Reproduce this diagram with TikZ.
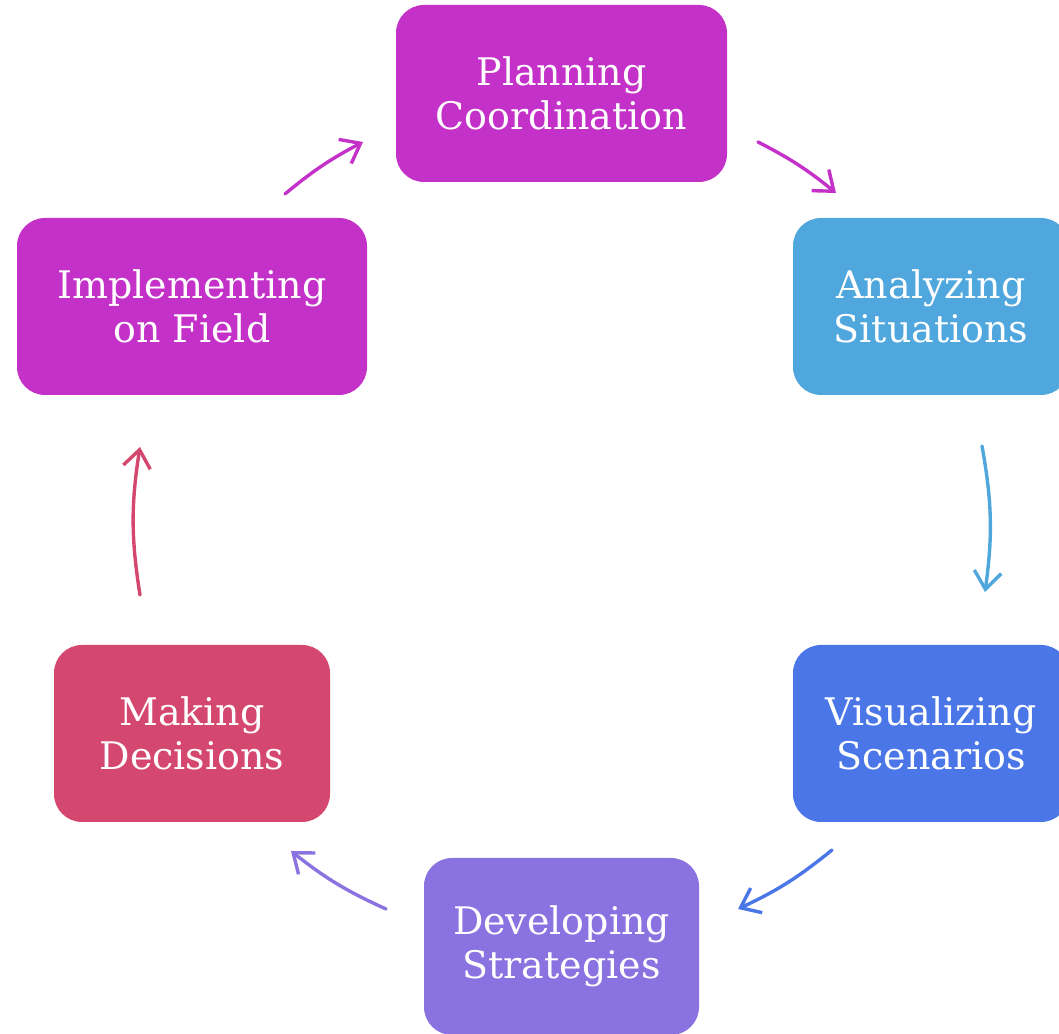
\documentclass[tikz,border=0pt]{standalone}
\usepackage{fontspec}
\setmainfont{DejaVu Serif}
\usepackage{tikz}
\usetikzlibrary{arrows.meta}

\definecolor{magentabox}{HTML}{C431C9}
\definecolor{skybox}{HTML}{50A7DD}
\definecolor{bluebox}{HTML}{4A76E8}
\definecolor{violetbox}{HTML}{8A72E0}
\definecolor{rosebox}{HTML}{D4476E}

\tikzset{
  cyclebox/.style={rounded corners=7mm, minimum height=177*0.25mm, text=white, align=center,
    font=\fontsize{27}{31}\selectfont},
  cyclearr/.style={line width=0.85mm, line cap=round,
    -{Straight Barb[length=4.4mm,width=6.8mm,line width=0.85mm]}}
}

\begin{document}
\begin{tikzpicture}[x=0.25mm,y=0.25mm]
  \useasboundingbox (0,0) rectangle (1059,1034);
  % boxes
  \node[cyclebox, fill=magentabox, minimum width=331*0.25mm] (plan) at (561.5,940.5) {Planning\\Coordination};
  \node[cyclebox, fill=skybox, minimum width=276*0.25mm] (analyze) at (931,727.5) {Analyzing\\Situations};
  \node[cyclebox, fill=bluebox, minimum width=276*0.25mm] (visual) at (931,300.5) {Visualizing\\Scenarios};
  \node[cyclebox, fill=violetbox, minimum width=275*0.25mm] (develop) at (561.5,87.5) {Developing\\Strategies};
  \node[cyclebox, fill=rosebox, minimum width=276*0.25mm] (decide) at (192,300.5) {Making\\Decisions};
  \node[cyclebox, fill=magentabox, minimum width=350*0.25mm] (implement) at (192,727.5) {Implementing\\on Field};
  % arrow ends
  \coordinate (a1s) at (285,840);  \coordinate (a1e) at (363,892);
  \coordinate (a2s) at (758,892);  \coordinate (a2e) at (836,841);
  \coordinate (a3s) at (982,588);  \coordinate (a3e) at (985,442);
  \coordinate (a4s) at (832,184);  \coordinate (a4e) at (738,125);
  \coordinate (a5s) at (386,125);  \coordinate (a5e) at (291,183);
  \coordinate (a6s) at (140,439);  \coordinate (a6e) at (140,587);
  \foreach \s/\e/\c/\b in {a1s/a1e/magentabox/6, a2s/a2e/magentabox/6, a3s/a3e/skybox/9,
                           a4s/a4e/bluebox/7, a5s/a5e/violetbox/7, a6s/a6e/rosebox/9}
    \draw[cyclearr, \c] (\s) to[bend left=\b] (\e);
\end{tikzpicture}
\end{document}
